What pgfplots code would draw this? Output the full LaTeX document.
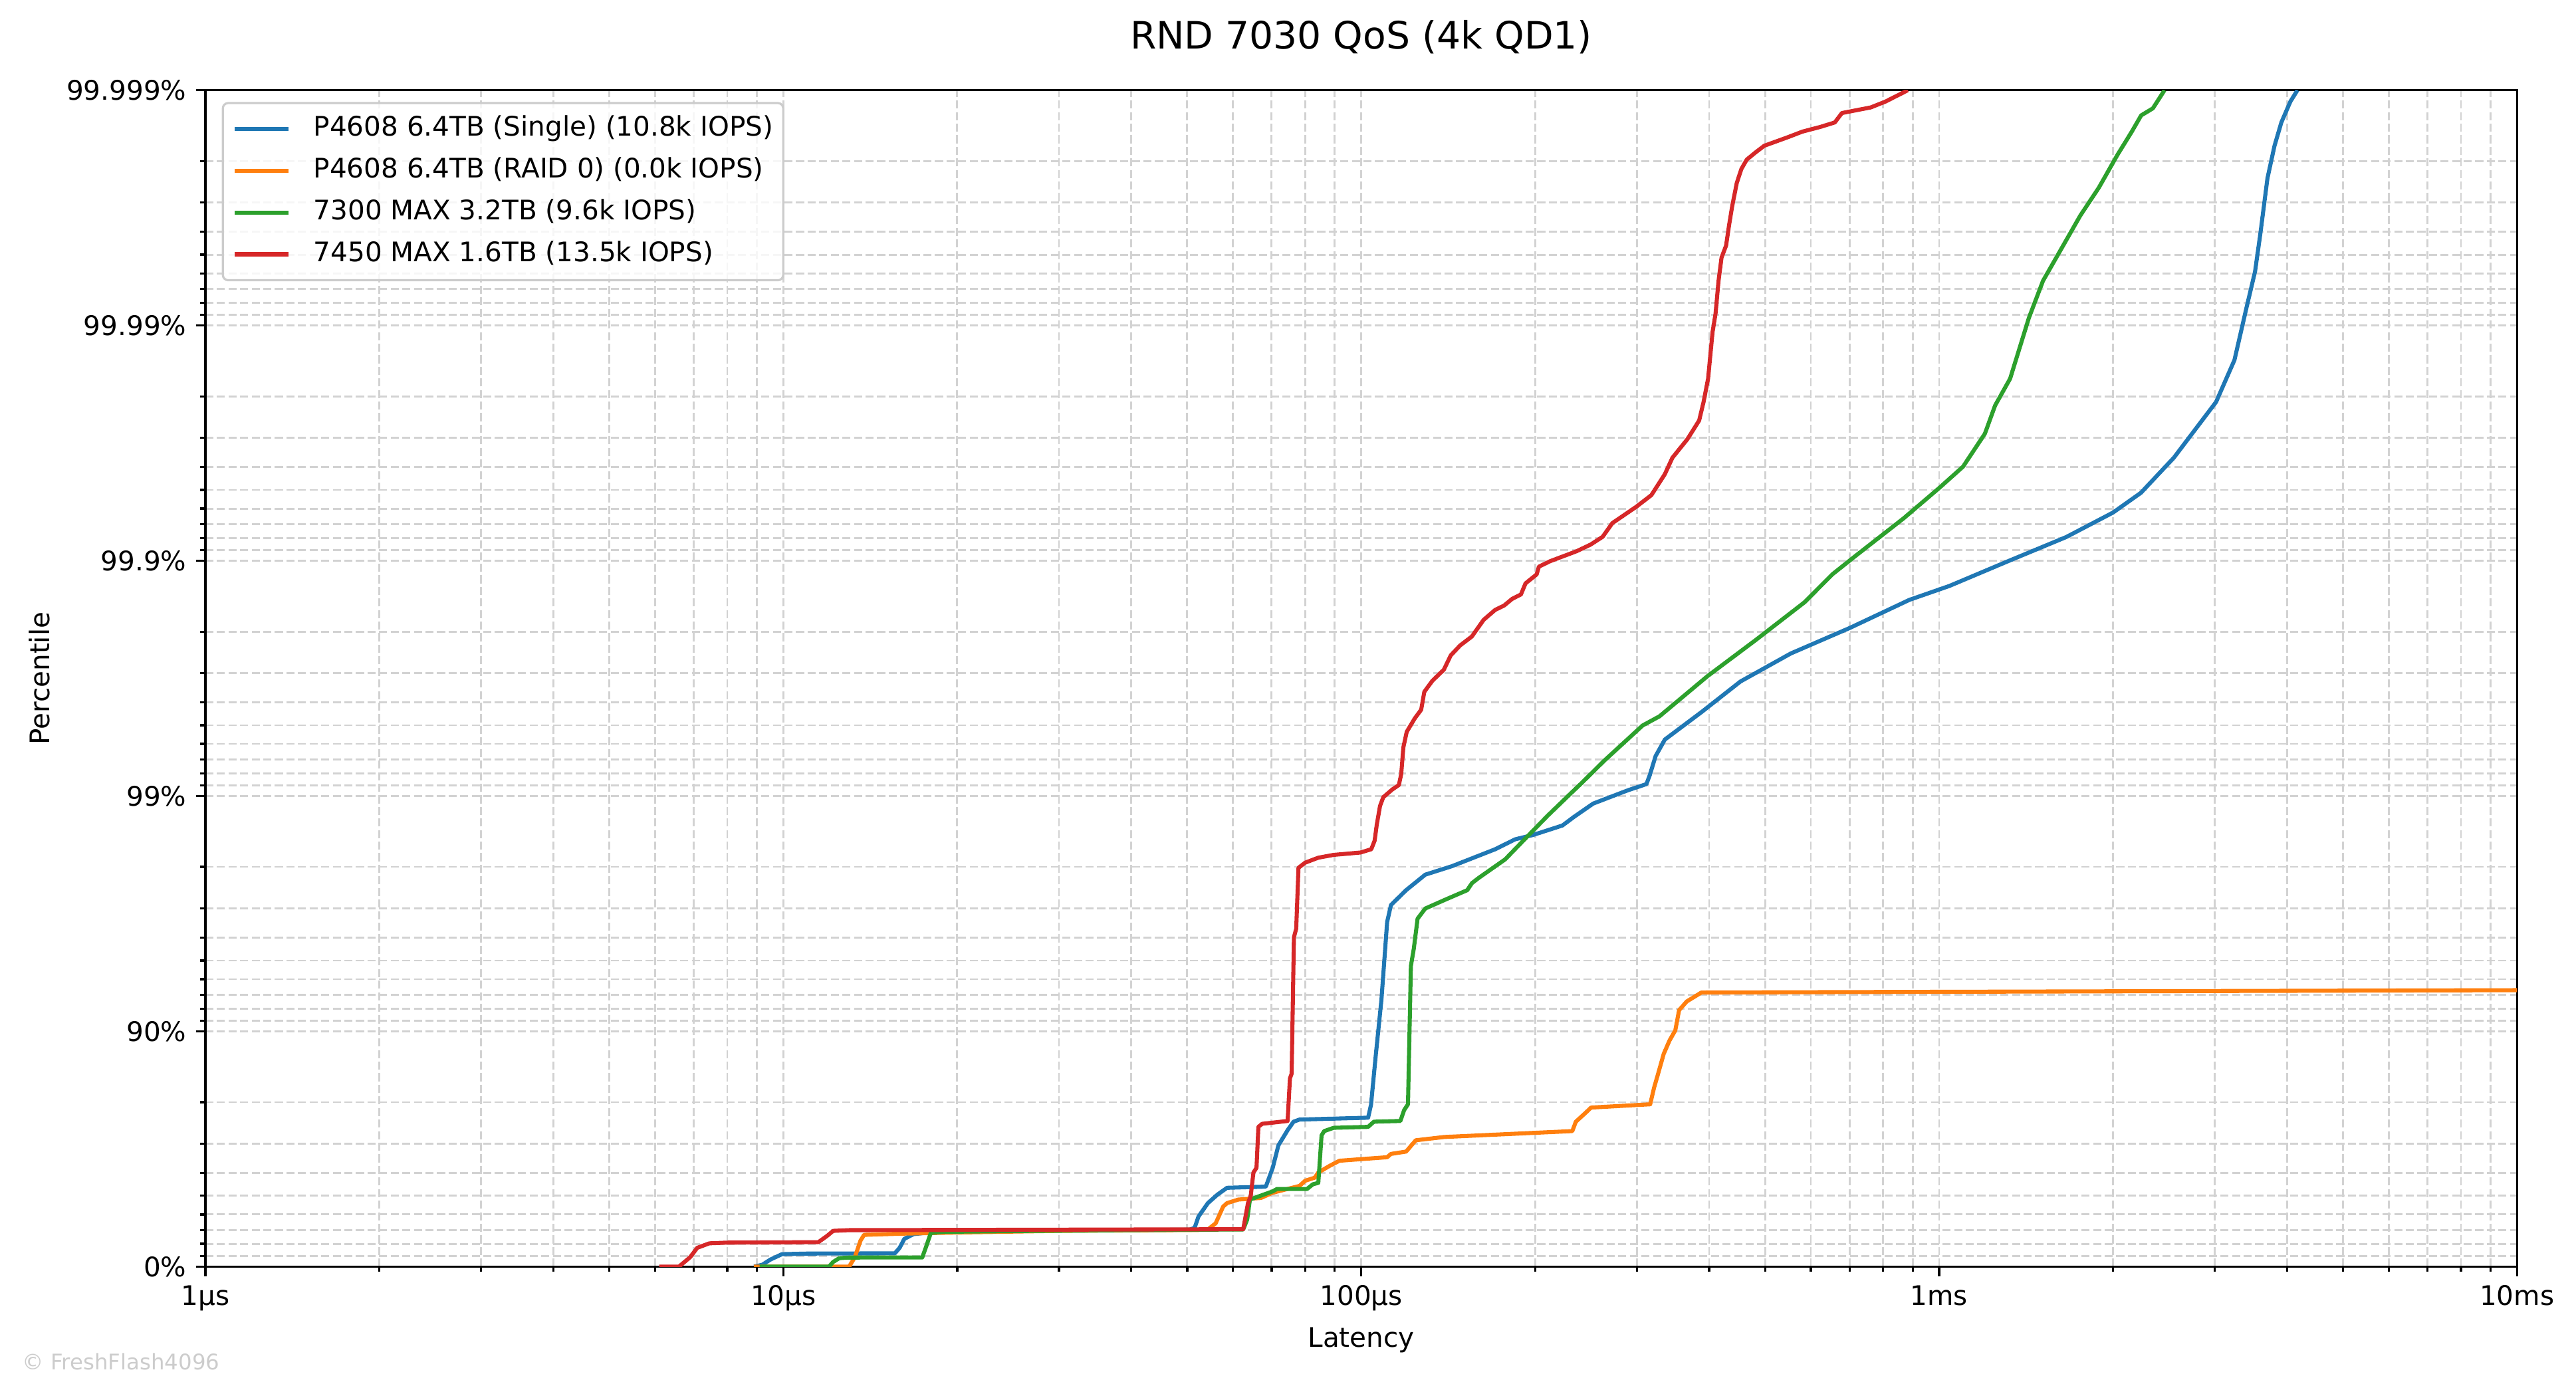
\documentclass[border=0pt]{standalone}
\usepackage{fontspec}
\setmainfont{DejaVu Sans}
\usepackage{pgfplots}
\pgfplotsset{compat=1.18}
\definecolor{tabblue}{HTML}{1F77B4}
\definecolor{taborange}{HTML}{FF7F0E}
\definecolor{tabgreen}{HTML}{2CA02C}
\definecolor{tabred}{HTML}{D62728}
% y values are "nines": -log10(1 - percentile)
\begin{document}
\begin{tikzpicture}
\begin{axis}[
  at={(0,0)}, anchor=south west,
  scale only axis, width=858.3pt, height=436.8pt,
  xmode=log, log basis x=10,
  xmin=1, xmax=10000, ymin=0, ymax=5,
  xtick={1,10,100,1000,10000},
  xticklabels={1µs,10µs,100µs,1ms,10ms},
  minor xtick={2,3,4,5,6,7,8,9,20,30,40,50,60,70,80,90,200,300,400,500,600,700,800,900,2000,3000,4000,5000,6000,7000,8000,9000},
  ytick={0,1,2,3,4,5},
  yticklabels={0\%,90\%,99\%,99.9\%,99.99\%,99.999\%},
  minor ytick={0.0458,0.0969,0.1549,0.2218,0.3010,0.3979,0.5229,0.6990,
               1.0458,1.0969,1.1549,1.2218,1.3010,1.3979,1.5229,1.6990,
               2.0458,2.0969,2.1549,2.2218,2.3010,2.3979,2.5229,2.6990,
               3.0458,3.0969,3.1549,3.2218,3.3010,3.3979,3.5229,3.6990,
               4.0458,4.0969,4.1549,4.2218,4.3010,4.3979,4.5229,4.6990},
  grid=both,
  major grid style={gray!35, line width=0.7pt, dash pattern=on 3pt off 1.3pt},
  minor grid style={gray!35, line width=0.7pt, dash pattern=on 3pt off 1.3pt},
  tick align=outside, xtick pos=bottom, ytick pos=left,
  major tick length=3.5pt, minor tick length=2pt,
  every tick/.style={black, line width=0.8pt},
  axis line style={line width=0.8pt},
  ticklabel style={font=\fontsize{10}{12}\selectfont},
  title={RND 7030 QoS (4k QD1)},
  title style={at={(axis description cs:0.5,1.0349)}, anchor=base, yshift=-6pt, font=\fontsize{14}{17}\selectfont},
  xlabel={Latency},
  xlabel style={at={(axis description cs:0.5,-0.0684)}, anchor=base, font=\fontsize{10}{12}\selectfont},
  ylabel={Percentile},
  ylabel style={at={(axis description cs:-0.0675,0.5)}, anchor=base, font=\fontsize{10}{12}\selectfont},
  legend cell align=left,
  legend image code/.code={\draw[#1] (0pt,0pt) -- (20pt,0pt);},
  legend style={at={(rel axis cs:0.0071,0.990)}, anchor=north west,
    draw=gray!40, line width=0.8pt, rounded corners=2pt,
    fill=white, fill opacity=0.8, text opacity=1,
    inner xsep=3.7pt, inner ysep=5pt, row sep=6.2pt, column sep=8.5pt,
    font=\fontsize{10}{12}\selectfont,
    nodes={inner sep=0pt, text height=7.3pt, text depth=2pt}},
]
\addplot[tabblue, line width=1.5pt, line join=round] table {
8.9 0
9.2 0.008
9.5 0.03
9.95 0.053
11 0.0555
15.6 0.0565
15.9 0.08
16.2 0.118
16.8 0.138
18 0.146
30 0.153
50.5 0.157
51.5 0.165
52.3 0.213
54.3 0.27
56.4 0.306
58.6 0.335
68.4 0.34
70.3 0.42
71.9 0.515
74.6 0.58
76.4 0.616
78.2 0.625
102.8 0.633
104 0.688
105.9 0.89
108.4 1.134
110.9 1.465
112.6 1.537
119.6 1.60
129.1 1.666
143.6 1.702
170.6 1.774
184.6 1.816
198.6 1.835
223 1.875
233.3 1.911
252 1.968
289 2.024
311.6 2.051
315.9 2.09
323.2 2.17
335.3 2.24
388.6 2.358
453.2 2.487
553.8 2.606
701.3 2.715
888.6 2.834
1041.8 2.893
1327.3 3.002
1660 3.101
2000 3.205
2235 3.289
2548 3.438
3015 3.675
3244 3.853
3400 4.071
3522 4.23
3596 4.388
3700 4.626
3806 4.764
3911 4.863
4054 4.952
4169 5.0
};
\addlegendentry{P4608 6.4TB (Single) (10.8k IOPS)}
\addplot[taborange, line width=1.5pt, line join=round] table {
8.9 0
13.0 0
13.3 0.04
13.6 0.11
13.8 0.135
16 0.14
20 0.145
30 0.152
53 0.156
54.3 0.158
56 0.184
57.7 0.255
58.6 0.27
61.3 0.285
67.1 0.292
70.3 0.314
78.2 0.343
80 0.365
83.1 0.378
84.3 0.40
88.3 0.429
91.7 0.45
110.9 0.465
112.6 0.479
119.6 0.489
124.3 0.537
139.3 0.551
231.9 0.576
235.2 0.616
244.1 0.652
249.9 0.676
316.3 0.69
321.2 0.76
326.2 0.817
333.8 0.904
341.6 0.961
349.6 1.004
354.9 1.09
365.9 1.127
387.9 1.165
1000 1.168
10000 1.175
};
\addlegendentry{P4608 6.4TB (RAID 0) (0.0k IOPS)}
\addplot[tabgreen, line width=1.5pt, line join=round] table {
9.1 0
12.0 0
12.2 0.02
12.5 0.036
13 0.0386
17.4 0.039
17.7 0.09
18.0 0.143
19 0.148
30 0.153
62.5 0.158
63.5 0.2
64.2 0.285
70.3 0.32
71.5 0.33
80.6 0.33
82.5 0.35
84.3 0.356
85.4 0.558
86.3 0.576
89.6 0.59
102.8 0.594
105.2 0.616
116.9 0.619
118.7 0.666
120.5 0.69
121.9 1.278
123.3 1.35
125.2 1.479
129.1 1.522
139.3 1.558
152.6 1.60
155.5 1.63
159.7 1.652
177.5 1.731
194.6 1.832
210.3 1.917
228.4 2.002
240.6 2.055
263.3 2.15
306.9 2.30
328.3 2.339
397.6 2.51
482.7 2.665
585.2 2.824
654 2.943
717.9 3.022
867.8 3.18
1000 3.309
1100 3.40
1200 3.54
1250 3.66
1327 3.774
1430 4.032
1513 4.19
1630 4.329
1755 4.467
1890 4.586
2035 4.725
2155 4.824
2237 4.893
2344 4.923
2455 5.0
};
\addlegendentry{7300 MAX 3.2TB (9.6k IOPS)}
\addplot[tabred, line width=1.5pt, line join=round] table {
6.1 0
6.6 0
6.9 0.04
7.1 0.08
7.45 0.099
8 0.102
11.5 0.104
11.9 0.13
12.2 0.152
13 0.155
30 0.157
62.5 0.159
63.7 0.27
64.4 0.30
65.1 0.40
65.9 0.42
66.4 0.594
67.4 0.607
74.6 0.619
75.3 0.80
75.8 0.82
76.5 1.40
77.2 1.436
77.9 1.695
80 1.717
84.3 1.738
89.6 1.75
99.7 1.76
104.1 1.774
105.5 1.81
106.4 1.878
107.8 1.958
109.2 1.995
113.2 2.028
116.2 2.047
117.3 2.094
118.3 2.207
119.9 2.273
123.8 2.33
127 2.367
128.6 2.443
132.8 2.49
139 2.537
142.9 2.598
148.3 2.64
155.4 2.678
162.9 2.749
170.5 2.791
176.8 2.81
182.5 2.838
189 2.857
192.5 2.904
201.2 2.942
203 2.975
212.2 2.998
236.1 3.041
249.5 3.069
261.7 3.102
272 3.16
299.4 3.23
317.8 3.279
335.3 3.368
345.6 3.438
366.9 3.517
384.4 3.596
391.3 3.675
398.4 3.774
405.5 3.972
410.4 4.051
415.3 4.19
420.3 4.289
427.9 4.339
433.2 4.428
438.5 4.507
446.6 4.606
454.8 4.665
464.7 4.705
480.9 4.735
498.3 4.764
547 4.80
580 4.824
623 4.844
660 4.863
679 4.903
762 4.927
808 4.952
883 5.0
};
\addlegendentry{7450 MAX 1.6TB (13.5k IOPS)}
\end{axis}
\node[anchor=base west, text=gray!40, font=\fontsize{8}{10}\selectfont, inner sep=0pt] at (-68.1pt,-38.4pt) {© FreshFlash4096};
\pgfresetboundingbox
\path (-76.25pt,-46.5pt) rectangle (880.2pt,470.3pt);
\end{tikzpicture}
\end{document}
